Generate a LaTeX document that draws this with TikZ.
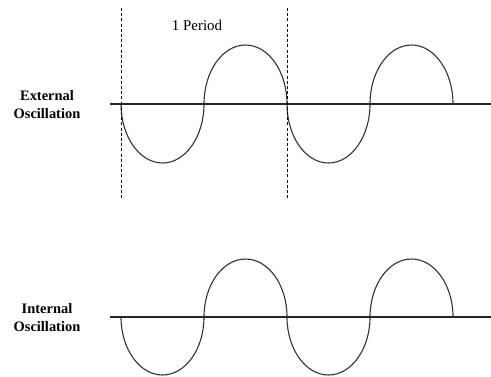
\documentclass[tikz,border=0pt]{standalone}
\usepackage{fontspec}
\setmainfont{Liberation Serif}
\tikzset{
  axisline/.style={line width=1.6bp, black!85},
  waveline/.style={line width=1.1bp, black!80},
  markline/.style={line width=0.9bp, dash pattern=on 3bp off 2.2bp},
  caption/.style={font=\fontsize{14.5}{18.5}\selectfont\bfseries, align=center, inner sep=0pt}
}
\begin{document}
\begin{tikzpicture}[x=1bp,y=1bp]
\useasboundingbox (0,0) rectangle (491,376);

\draw[axisline] (110,272) -- (491,272);
\draw[waveline] (121,272) arc (180:360:41.5 and 59) arc (180:0:41.5 and 59)
  arc (180:360:41.5 and 59) arc (180:0:41.5 and 59);
\node[caption] (ext) at (47,271.5) {External\\Oscillation};

\draw[markline] (121.5,368) -- (121.5,176);
\draw[markline] (287,368) -- (287,176);
\node[font=\fontsize{15}{18}\selectfont, inner sep=0pt] (period) at (197,351) {1 Period};

\draw[axisline] (110,59) -- (491,59);
\draw[waveline] (121,59) arc (180:360:41.5 and 58) arc (180:0:41.5 and 58)
  arc (180:360:41.5 and 58) arc (180:0:41.5 and 58);
\node[caption] (int) at (47,58.5) {Internal\\Oscillation};
\end{tikzpicture}
\end{document}
